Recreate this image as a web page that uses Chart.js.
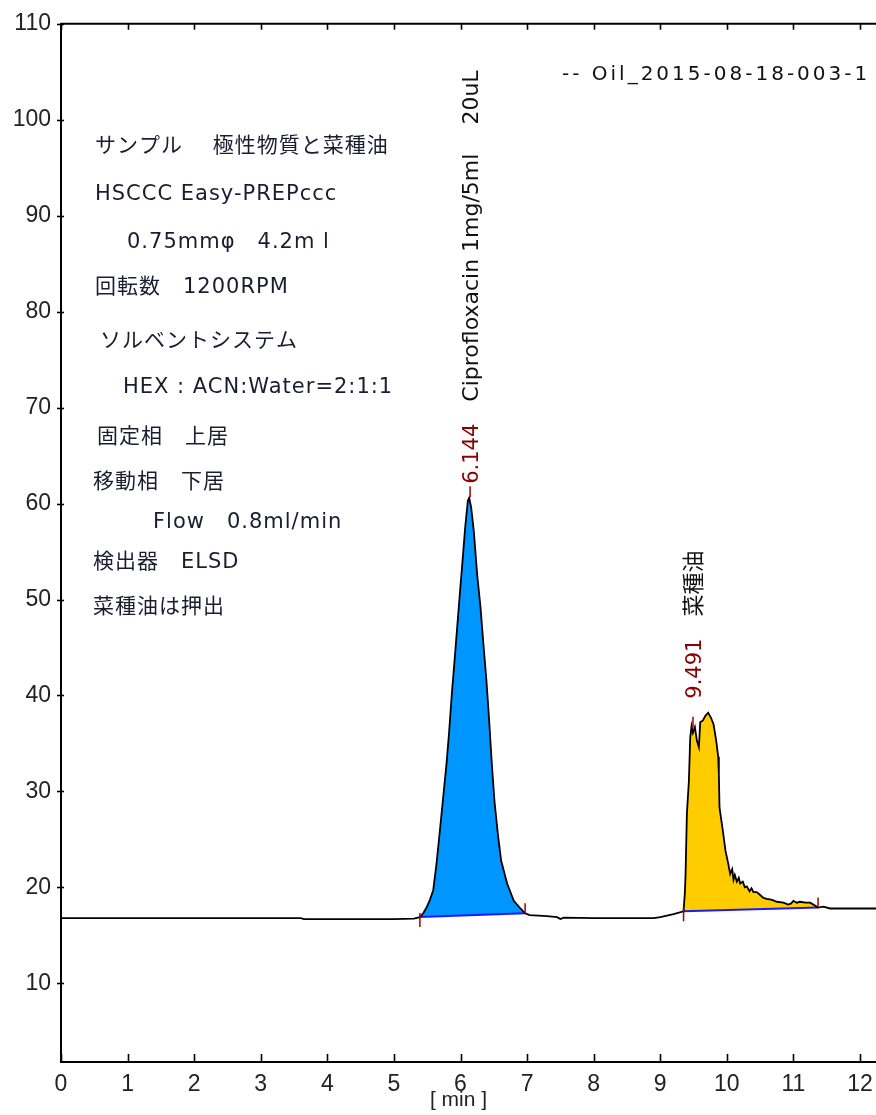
<!DOCTYPE html>
<html lang="ja">
<head>
<meta charset="UTF-8">
<title>Chromatogram Oil_2015-08-18-003-1</title>
<style>
  html, body { margin: 0; padding: 0; background: #fff; }
  .wrap { width: 876px; height: 1115px; position: relative; }
</style>
</head>
<body>
<div class="wrap"><canvas id="chart"></canvas></div>
<script src="https://cdn.jsdelivr.net/npm/chart.js@4"></script>
<script>
// ==== data ====
const timeMin = [
  0.00, 1.00, 2.00, 3.00, 3.60, 3.65, 5.00, 5.30, 5.39, 5.44, 5.49, 5.54, 5.59, 5.64, 5.69, 5.74,
  5.79, 5.83, 5.87, 5.91, 5.95, 5.99, 6.03, 6.07, 6.11, 6.13, 6.16, 6.20, 6.25, 6.30, 6.34, 6.39,
  6.43, 6.47, 6.51, 6.56, 6.61, 6.70, 6.80, 6.90, 6.97, 7.04, 7.30, 7.45, 7.50, 7.55, 8.00, 8.90,
  9.00, 9.20, 9.35, 9.37, 9.38, 9.40, 9.43, 9.45, 9.47, 9.49, 9.52, 9.55, 9.58, 9.60, 9.64, 9.68,
  9.72, 9.76, 9.80, 9.84, 9.87, 9.88, 9.89, 9.94, 9.98, 10.02, 10.05, 10.08, 10.10, 10.12, 10.15, 10.18,
  10.20, 10.24, 10.27, 10.30, 10.34, 10.37, 10.40, 10.45, 10.50, 10.55, 10.60, 10.68, 10.75, 10.85, 10.92, 10.96,
  11.00, 11.05, 11.10, 11.18, 11.25, 11.30, 11.37, 11.45, 11.55, 11.70, 12.24
];
const signal = [
  16.80, 16.80, 16.80, 16.80, 16.80, 16.70, 16.70, 16.75, 16.90, 17.30, 17.90, 18.70, 19.70, 22.50, 25.90, 29.40,
  32.90, 36.30, 40.20, 43.60, 47.10, 50.60, 54.00, 57.50, 60.30, 60.60, 59.60, 57.10, 52.60, 49.20, 45.70, 41.50,
  37.40, 32.90, 29.00, 25.60, 22.80, 20.40, 18.60, 17.80, 17.30, 17.10, 17.00, 16.90, 16.70, 16.85, 16.80, 16.80,
  16.90, 17.20, 17.50, 19.50, 21.40, 27.70, 31.10, 35.60, 36.80, 36.10, 36.70, 35.30, 34.60, 37.20, 37.40, 37.90,
  38.20, 37.70, 37.00, 35.30, 33.60, 31.80, 28.30, 25.90, 23.80, 22.50, 21.40, 21.90, 20.80, 21.30, 20.60, 21.00,
  20.40, 20.60, 20.00, 20.10, 19.60, 19.90, 19.50, 19.50, 19.20, 18.90, 18.80, 18.70, 18.50, 18.40, 18.20, 18.30,
  18.60, 18.40, 18.50, 18.40, 18.40, 18.20, 17.90, 18.00, 17.80, 17.80, 17.80
];

const xTickValues = [0, 1, 2, 3, 4, 5, 6, 7, 8, 9, 10, 11, 12];
const yTickValues = [10, 20, 30, 40, 50, 60, 70, 80, 90, 100, 110];

// peaks: integration window, baseline ends, retention time, name
const peakStart = [5.39, 9.35];
const peakEnd = [6.97, 11.37];
const peakStartLevel = [16.9, 17.5];
const peakEndLevel = [17.3, 17.9];
const peakTime = [6.144, 9.491];
const peakTop = [60.6, 38.2];
const peakNames = ['Ciprofloxacin 1mg/5ml\u3000 20uL', '菜種油'];
const peakFill = ['#0096ff', '#ffcc00'];

const legendText = '-- Oil_2015-08-18-003-1';
const noteLines = [
  'サンプル\u3000 極性物質と菜種油',
  'HSCCC Easy-PREPccc',
  '0.75mmφ\u30004.2m l',
  '回転数\u30001200RPM',
  'ソルベントシステム',
  'HEX : ACN:Water=2:1:1',
  '固定相\u3000上居',
  '移動相\u3000下居',
  'Flow\u30000.8ml/min',
  '検出器\u3000ELSD',
  '菜種油は押出'
];

// ==== build datasets ====
const trace = timeMin.map((t, i) => ({ x: t, y: signal[i] }));
const datasets = [{
  data: trace,
  borderColor: '#000',
  borderWidth: 1.8,
  pointRadius: 0,
  tension: 0,
  fill: false
}];
// blue baselines
peakStart.forEach((s, i) => {
  datasets.push({
    data: [{ x: s, y: peakStartLevel[i] }, { x: peakEnd[i], y: peakEndLevel[i] }],
    borderColor: '#1a1aff',
    borderWidth: 2,
    pointRadius: 0,
    fill: false
  });
});
// filled peak areas, down to the blue baseline
peakStart.forEach((s, i) => {
  datasets.push({
    data: trace.filter(p => p.x >= s && p.x <= peakEnd[i]),
    borderWidth: 0,
    borderColor: 'rgba(0,0,0,0)',
    backgroundColor: peakFill[i],
    pointRadius: 0,
    tension: 0,
    fill: { target: 1 + i }
  });
});

function valueAt(t) {
  for (let i = 1; i < timeMin.length; i++) {
    if (timeMin[i] >= t) {
      const f = (t - timeMin[i - 1]) / (timeMin[i] - timeMin[i - 1]);
      return signal[i - 1] + f * (signal[i] - signal[i - 1]);
    }
  }
  return signal[signal.length - 1];
}

const TICK_FONT = '"Liberation Sans", Arial, sans-serif';
const TEXT_FONT = '"DejaVu Sans", "Noto Sans CJK JP", sans-serif';

// frame, tick marks, peak markers and all text annotations
const decor = {
  id: 'decor',
  afterDatasetsDraw(chart) {
    const { ctx, chartArea: a, scales: { x, y } } = chart;
    ctx.save();

    // top frame line
    ctx.strokeStyle = '#000';
    ctx.lineWidth = 2;
    ctx.beginPath();
    ctx.moveTo(a.left, a.top);
    ctx.lineTo(a.right, a.top);
    ctx.stroke();

    // tick marks (inside on x, crossing on y)
    ctx.lineWidth = 1.6;
    xTickValues.forEach(v => {
      const px = Math.round(x.getPixelForValue(v)) + 0.5;
      ctx.beginPath();
      ctx.moveTo(px, a.top);
      ctx.lineTo(px, a.top + 6);
      ctx.moveTo(px, a.bottom);
      ctx.lineTo(px, a.bottom - 8);
      ctx.stroke();
    });
    yTickValues.forEach(v => {
      const py = Math.round(y.getPixelForValue(v)) + 0.5;
      ctx.beginPath();
      ctx.moveTo(a.left - 4, py);
      ctx.lineTo(a.left + 3, py);
      ctx.stroke();
    });

    // red integration markers
    ctx.strokeStyle = '#a00000';
    ctx.lineWidth = 1.5;
    peakStart.forEach((s, i) => {
      const sx = x.getPixelForValue(s), sy = y.getPixelForValue(peakStartLevel[i]);
      const ex = x.getPixelForValue(peakEnd[i]), ey = y.getPixelForValue(peakEndLevel[i]);
      const tx = x.getPixelForValue(peakTime[i]), ty = y.getPixelForValue(valueAt(peakTime[i]));
      ctx.beginPath();
      ctx.moveTo(sx, sy - 4); ctx.lineTo(sx, sy + 10);
      ctx.moveTo(ex, ey - 10); ctx.lineTo(ex, ey);
      ctx.moveTo(tx, ty - 16); ctx.lineTo(tx, ty - 5);
      ctx.stroke();
    });

    // vertical peak labels
    ctx.textAlign = 'left';
    ctx.textBaseline = 'alphabetic';
    peakTime.forEach((t, i) => {
      const px = x.getPixelForValue(t);
      const py = y.getPixelForValue(peakTop[i]);
      ctx.save();
      ctx.translate(px + 8, py - 14);
      ctx.rotate(-Math.PI / 2);
      const num = t.toFixed(3);
      ctx.font = '21px ' + TEXT_FONT;
      ctx.fillStyle = '#8b0000';
      ctx.fillText(num, 0, 0);
      const w = ctx.measureText(num).width;
      ctx.font = '22px ' + TEXT_FONT;
      ctx.fillStyle = '#111';
      ctx.fillText(peakNames[i], w + 22, 0);
      ctx.restore();
    });

    // legend line
    ctx.fillStyle = '#111';
    ctx.font = '20px ' + TEXT_FONT;
    if ('letterSpacing' in ctx) ctx.letterSpacing = '3px';
    ctx.fillText(legendText, 562, 80);

    // method notes
    const noteX = [95, 95, 127, 95, 100, 123, 97, 93, 153, 93, 93];
    const noteY = [147, 195, 243, 288, 342, 388, 438, 483, 523, 563, 608];
    ctx.fillStyle = '#1c1c30';
    ctx.font = '21px ' + TEXT_FONT;
    if ('letterSpacing' in ctx) ctx.letterSpacing = '1px';
    ctx.textBaseline = 'middle';
    noteLines.forEach((line, i) => ctx.fillText(line, noteX[i], noteY[i]));

    // x axis title
    if ('letterSpacing' in ctx) ctx.letterSpacing = '0px';
    ctx.fillStyle = '#222';
    ctx.font = '21px ' + TICK_FONT;
    ctx.textAlign = 'center';
    ctx.fillText('[ min ]', (a.left + a.right) / 2 - 10, 1100);

    ctx.restore();
  }
};

new Chart(document.getElementById('chart'), {
  type: 'line',
  data: { datasets },
  options: {
    responsive: true,
    maintainAspectRatio: false,
    animation: false,
    layout: { padding: { top: 22, right: 0, left: 0, bottom: 0 } },
    plugins: {
      legend: { display: false },
      tooltip: { enabled: false }
    },
    scales: {
      x: {
        type: 'linear',
        min: 0,
        max: 12.24,
        grid: { display: false, drawTicks: false },
        border: { display: true, color: '#000', width: 2 },
        afterBuildTicks: s => { s.ticks = xTickValues.map(v => ({ value: v })); },
        afterFit: s => { s.height = 53; s.paddingLeft = 0; s.paddingRight = 0; },
        ticks: {
          padding: 9,
          maxRotation: 0,
          autoSkip: false,
          color: '#222',
          font: { family: TICK_FONT, size: 23 }
        }
      },
      y: {
        min: 1.8,
        max: 110,
        grid: { display: false, drawTicks: false },
        border: { display: true, color: '#000', width: 2 },
        afterBuildTicks: s => { s.ticks = yTickValues.map(v => ({ value: v })); },
        afterFit: s => { s.width = 61; },
        ticks: {
          padding: 10,
          color: '#222',
          font: { family: TICK_FONT, size: 23 }
        }
      }
    }
  },
  plugins: [decor]
});
</script>
</body>
</html>
